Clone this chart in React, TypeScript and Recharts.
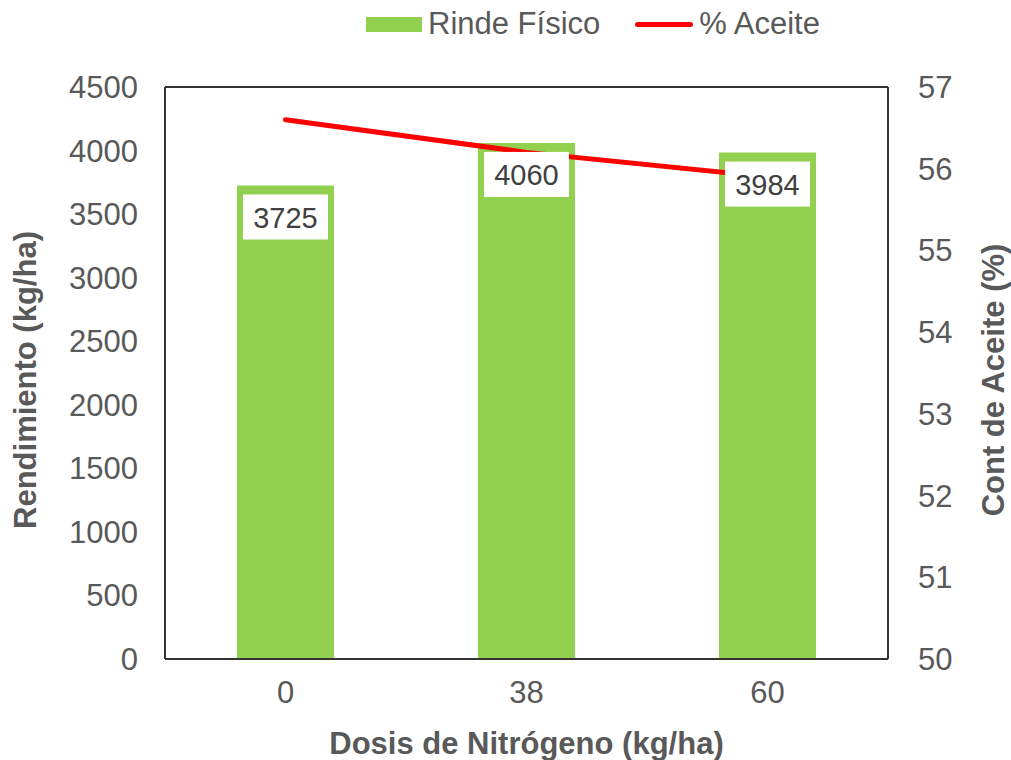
import React from 'react';
import { ComposedChart, Bar, Line, XAxis, YAxis, LabelList, Label, ReferenceLine } from 'recharts';

const doses = ['0', '38', '60'];
const yieldValues = [3725, 4060, 3984];
const oilValues = [56.6, 56.2, 55.9];
const leftTicks = [0, 500, 1000, 1500, 2000, 2500, 3000, 3500, 4000, 4500];
const rightTicks = [50, 51, 52, 53, 54, 55, 56, 57];

const data = doses.map((d, i) => ({ dose: d, rinde: yieldValues[i], aceite: oilValues[i] }));

const FONT = '"Liberation Sans", Arial, sans-serif';
const GRAY = '#595959';
const GREEN = '#92D050';
const RED = '#FF0000';
const FS = 31;

const ValueBox = (props: any) => {
  const { x, y, width, value } = props;
  const cx = x + width / 2;
  return (
    <g>
      <rect x={x + 6} y={y + 9} width={width - 12} height={45} fill="#fff" />
      <text x={cx} y={y + 32} textAnchor="middle" dominantBaseline="central" fontSize={29} fill="#404040" fontFamily={FONT}>
        {value}
      </text>
    </g>
  );
};

const VerticalTitle = (dx: number, text: string) => (props: any) => {
  const vb = props.viewBox;
  const x = vb.x + dx;
  const y = vb.y + vb.height / 2 + 7;
  return (
    <text x={x} y={y} transform={`rotate(-90 ${x} ${y})`} textAnchor="middle" dominantBaseline="central"
      fontSize={FS} fontWeight="bold" fill={GRAY} fontFamily={FONT}>
      {text}
    </text>
  );
};

const LegendBox = () => (
  <div style={{ position: 'absolute', top: 6, left: 366, display: 'flex', alignItems: 'center', fontFamily: FONT,
    fontSize: FS, lineHeight: '36px', color: GRAY, whiteSpace: 'nowrap' }}>
    <span style={{ display: 'inline-block', width: 56, height: 15, background: GREEN, marginRight: 6 }} />
    <span>Rinde Físico</span>
    <span style={{ display: 'inline-block', width: 58, height: 5, borderRadius: 3, background: RED, marginLeft: 35, marginRight: 6 }} />
    <span>% Aceite</span>
  </div>
);

export default function App() {
  return (
    <div style={{ position: 'absolute', left: 0, top: 0, width: 1011, height: 760, background: '#fff' }}>
      <ComposedChart width={1011} height={760} data={data} margin={{ top: 87, right: 0, bottom: 0, left: 0 }}
        barCategoryGap="30%">
        <XAxis dataKey="dose" xAxisId="main" height={101} tickLine={false} tickSize={6} tickMargin={16}
          axisLine={{ stroke: '#333', strokeWidth: 2 }}
          tick={{ fill: GRAY, fontSize: FS, fontFamily: FONT }}>
          <Label value="Dosis de Nitrógeno (kg/ha)" position="insideBottom" offset={6}
            style={{ fill: GRAY, fontSize: FS, fontWeight: 'bold', fontFamily: FONT }} />
        </XAxis>
        <XAxis dataKey="dose" xAxisId="top" orientation="top" height={0} hide />
        <YAxis yAxisId="left" width={165} domain={[0, 4500]} ticks={leftTicks} tickLine={false} tickSize={6} tickMargin={21}
          axisLine={{ stroke: '#333', strokeWidth: 2 }} interval={0}
          tick={{ fill: GRAY, fontSize: FS, fontFamily: FONT }}>
          <Label content={VerticalTitle(25, 'Rendimiento (kg/ha)')} />
        </YAxis>
        <YAxis yAxisId="right" orientation="right" width={123} domain={[50, 57]} ticks={rightTicks} tickLine={false}
          tickSize={6} tickMargin={24} axisLine={{ stroke: '#333', strokeWidth: 2 }} interval={0}
          tick={{ fill: GRAY, fontSize: FS, fontFamily: FONT, textAnchor: 'start' }}>
          <Label content={VerticalTitle(105, 'Cont de Aceite (%)')} />
        </YAxis>
        <ReferenceLine xAxisId="main" yAxisId="left" y={4500} stroke="#333" strokeWidth={2} />
        <Bar xAxisId="main" yAxisId="left" dataKey="rinde" name="Rinde Físico" fill={GREEN} barSize={97}
          isAnimationActive={false} />
        <Line xAxisId="main" yAxisId="right" dataKey="aceite" name="% Aceite" type="linear" stroke={RED}
          strokeWidth={5} strokeLinecap="round" dot={false} activeDot={false} isAnimationActive={false} />
        <Bar xAxisId="top" yAxisId="left" dataKey="rinde" fill="none" barSize={97} isAnimationActive={false}>
          <LabelList dataKey="rinde" content={ValueBox} />
        </Bar>
      </ComposedChart>
      <LegendBox />
    </div>
  );
}
